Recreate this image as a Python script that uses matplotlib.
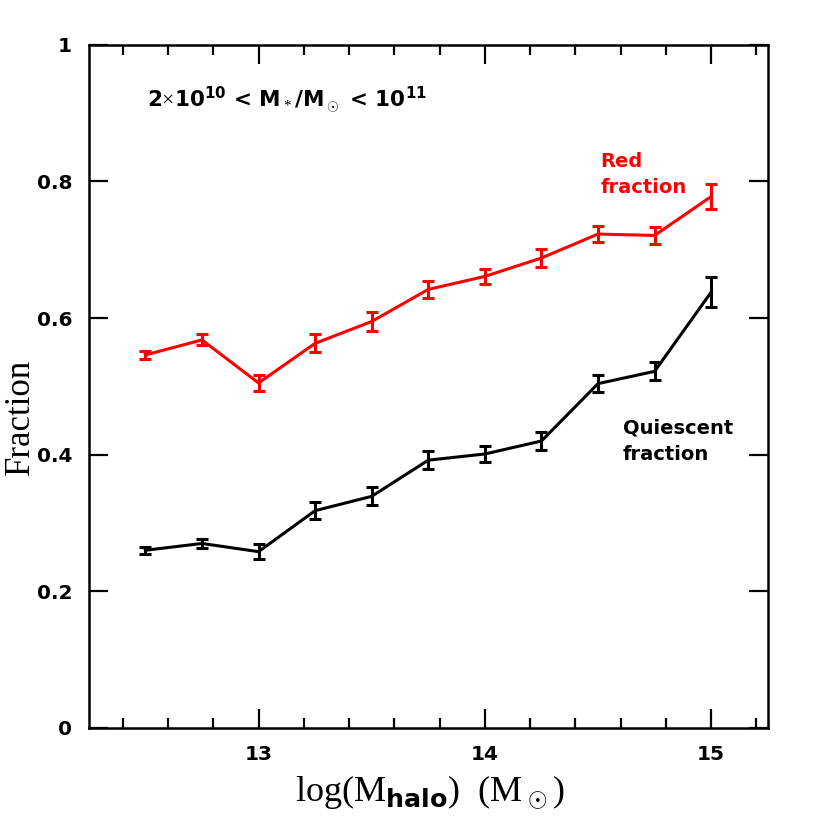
import matplotlib.pyplot as plt
import numpy as np

# halo mass bins and fractions
logmhalo = [12.5, 12.75, 13.0, 13.25, 13.5, 13.75, 14.0, 14.25, 14.5, 14.75, 15.0]
red_frac = [0.546, 0.568, 0.505, 0.563, 0.595, 0.642, 0.661, 0.688, 0.723, 0.721, 0.778]
red_err = [0.006, 0.008, 0.012, 0.013, 0.014, 0.013, 0.011, 0.013, 0.012, 0.012, 0.019]
qui_frac = [0.260, 0.270, 0.258, 0.318, 0.339, 0.392, 0.401, 0.420, 0.504, 0.522, 0.638]
qui_err = [0.005, 0.007, 0.011, 0.012, 0.013, 0.013, 0.012, 0.013, 0.012, 0.013, 0.022]

plt.rcParams['font.family'] = ['DejaVu Sans']
plt.rcParams['mathtext.fontset'] = 'custom'
plt.rcParams['mathtext.rm'] = 'Liberation Serif'
plt.rcParams['mathtext.bf'] = 'DejaVu Sans:bold'

fig = plt.figure(figsize=(8.3, 8.16), dpi=100)
ax = fig.add_axes([0.107, 0.108, 0.818, 0.837])

ax.errorbar(logmhalo, red_frac, yerr=red_err, color='red', lw=2.2,
            capsize=4.5, capthick=2.2, elinewidth=2.2)
ax.errorbar(logmhalo, qui_frac, yerr=qui_err, color='black', lw=2.2,
            capsize=4.5, capthick=2.2, elinewidth=2.2)

ax.set_xlim(12.25, 15.25)
ax.set_ylim(0, 1)
ax.set_xticks([13, 14, 15])
ax.set_xticks(np.arange(12.4, 15.21, 0.2), minor=True)
ax.set_yticks([0, 0.2, 0.4, 0.6, 0.8, 1.0])
ax.set_yticklabels(['0', '0.2', '0.4', '0.6', '0.8', '1'])
ax.tick_params(which='both', direction='in', top=True, right=True, width=1.6,
               labelsize=14.5, pad=12)
ax.tick_params(which='major', length=14)
ax.tick_params(which='minor', length=7)
for lab in ax.get_xticklabels() + ax.get_yticklabels():
    lab.set_fontweight('bold')
for s in ax.spines.values():
    s.set_linewidth(1.8)

ax.set_xlabel(r'log(M$_{\mathbf{halo}}$)  (M$_\odot$)', family='Liberation Serif',
              fontsize=26)
ax.xaxis.set_label_coords(0.502, -0.066)
ax.set_ylabel('Fraction', family='Liberation Serif', fontsize=25)
ax.yaxis.set_label_coords(-0.077, 0.455)

ax.text(0.085, 0.92,
        r'2$\times$10$^{\mathbf{10}}$ < M$_*$/M$_\odot$ < 10$^{\mathbf{11}}$',
        transform=ax.transAxes, fontsize=15.5, fontweight='bold', va='center')
ax.text(14.51, 0.81, 'Red\nfraction', color='red', fontsize=14,
        fontweight='bold', va='center', linespacing=1.5)
ax.text(14.61, 0.42, 'Quiescent\nfraction', color='black', fontsize=14,
        fontweight='bold', va='center', linespacing=1.5)

fig.savefig('out.png', dpi=100)
